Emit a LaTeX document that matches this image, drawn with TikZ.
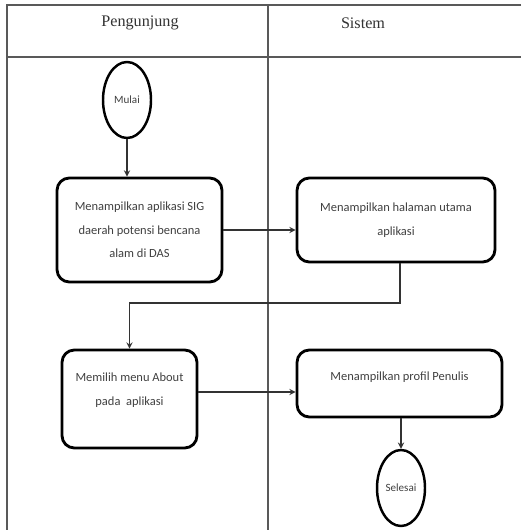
\documentclass[tikz,border=0pt]{standalone}
\usepackage{fontspec}
\setmainfont{Carlito}
\newfontfamily\headfont{Liberation Serif}
\usepackage{tikz}
\usetikzlibrary{positioning, arrows}
\tikzset{lane/.style={draw=black!65, line width=1pt}}
\tikzset{lanehead/.style={font=\headfont\fontsize{9.2}{11}\selectfont, text=black!80}}
\tikzset{actbox/.style={draw, line width=1.6pt, rounded corners=7, align=center, text=black!75,
	font=\fontsize{7.1}{13.3}\selectfont, inner sep=2pt}}
\tikzset{endpt/.style={draw, ellipse, line width=1.4pt, minimum width=0.96cm, minimum height=1.52cm,
	text=black!75, inner sep=0pt, font=\fontsize{6.3}{7}\selectfont}}
\tikzset{arr/.style={draw, ->, >=stealth, line width=0.6pt, black!80}}
\usetikzlibrary{shapes.geometric}

\begin{document}
\begin{tikzpicture}[x=0.02cm, y=-0.02cm]
	\useasboundingbox (0,0) rectangle (521,530);
	% swimlanes
	\draw[lane] (521,5) -- (7,5) -- (7,530);
	\draw[lane] (7,57) -- (521,57);
	\draw[lane] (268,5) -- (268,530);
	\node[lanehead] (pengunjung) at (140,23) {Pengunjung};
	\node[lanehead] (sistem) at (363,23) {Sistem};
	% activities
	\node[endpt] (mulai) at (127,100) {Mulai};
	\node[actbox, minimum width=3.3cm, minimum height=2.08cm] (tampil) at (139.5,230)
		{Menampilkan aplikasi SIG\\daerah potensi bencana\\alam di DAS};
	\node[actbox, minimum width=3.96cm, minimum height=1.68cm] (utama) at (396,220)
		{Menampilkan halaman utama\\aplikasi};
	\node[actbox, minimum width=2.7cm, minimum height=1.96cm, text depth=0.4cm] (about) at (129.5,399)
		{Memilih menu About\\pada\ \ aplikasi};
	\node[actbox, minimum width=4.1cm, minimum height=1.34cm, text depth=0.3cm] (profil) at (399.5,383.5)
		{Menampilkan profil Penulis};
	\node[endpt] (selesai) at (401,488) {Selesai};
	\coordinate (belok) at (400,303);
	% flow
	\draw[arr] (mulai.south) -- (mulai.south |- tampil.north);
	\draw[arr] (tampil.east) -- (tampil.east -| utama.west);
	\draw[arr] (utama.south -| belok) -- (belok) -| (about.north);
	\draw[arr] ([yshift=0.14cm]about.east) -- ([yshift=0.14cm]about.east -| profil.west);
	\draw[arr] (profil.south -| selesai) -- (selesai.north);
\end{tikzpicture}
\end{document}
